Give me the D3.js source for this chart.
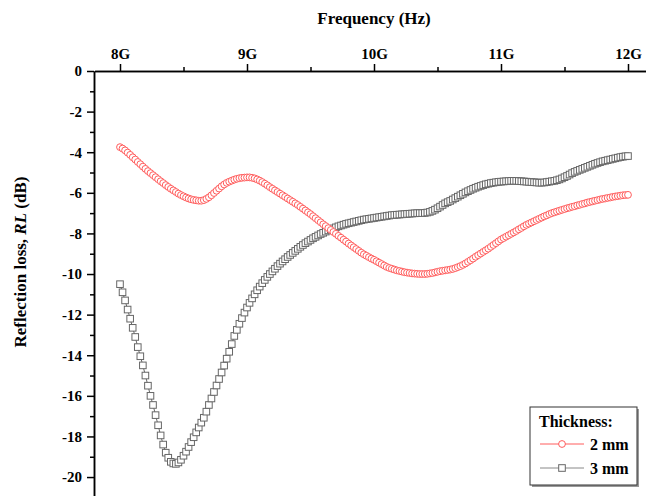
<!DOCTYPE html>
<html>
<head>
<meta charset="utf-8">
<script src="https://cdn.jsdelivr.net/npm/d3@7"></script>
<style>
  body { margin: 0; background: #fff; }
  svg { display: block; font-family: "Liberation Serif", "Times New Roman", serif; font-weight: bold; }
</style>
</head>
<body>
<div class="chart"></div>
<script>
// frequency axis, GHz, step 0.02
const freqStart = 8, freqStep = 0.02;
const xTicks = [8, 9, 10, 11, 12];
const xTickLabels = ["8G", "9G", "10G", "11G", "12G"];
const xMinor = [8.5, 9.5, 10.5, 11.5];
const yTicks = [0, -2, -4, -6, -8, -10, -12, -14, -16, -18, -20];
const yMinor = [-1, -3, -5, -7, -9, -11, -13, -15, -17, -19, -21];

// RL (dB) for 2 mm
const rl2mm = [
  -3.75, -3.82, -3.91, -4.02, -4.13, -4.25, -4.36, -4.48, -4.59, -4.71,
  -4.82, -4.93, -5.03, -5.13, -5.23, -5.33, -5.43, -5.52, -5.62, -5.71,
  -5.80, -5.88, -5.96, -6.04, -6.11, -6.17, -6.23, -6.28, -6.32, -6.35,
  -6.37, -6.39, -6.39, -6.36, -6.30, -6.22, -6.12, -6.01, -5.90, -5.79,
  -5.68, -5.59, -5.51, -5.45, -5.40, -5.35, -5.31, -5.28, -5.26, -5.25,
  -5.24, -5.24, -5.26, -5.29, -5.34, -5.40, -5.47, -5.55, -5.63, -5.72,
  -5.80, -5.88, -5.96, -6.04, -6.12, -6.20, -6.28, -6.36, -6.44, -6.52,
  -6.60, -6.69, -6.78, -6.87, -6.96, -7.05, -7.15, -7.25, -7.35, -7.45,
  -7.55, -7.64, -7.74, -7.83, -7.93, -8.02, -8.12, -8.21, -8.31, -8.40,
  -8.50, -8.59, -8.68, -8.77, -8.86, -8.95, -9.03, -9.10, -9.17, -9.24,
  -9.30, -9.37, -9.44, -9.51, -9.58, -9.65, -9.70, -9.74, -9.78, -9.82,
  -9.85, -9.88, -9.91, -9.93, -9.95, -9.97, -9.98, -9.99, -10.00, -10.00,
  -10.00, -9.99, -9.97, -9.95, -9.92, -9.89, -9.86, -9.84, -9.82, -9.80,
  -9.78, -9.75, -9.71, -9.66, -9.61, -9.55, -9.48, -9.40, -9.32, -9.24,
  -9.15, -9.07, -8.99, -8.91, -8.83, -8.75, -8.66, -8.57, -8.48, -8.39,
  -8.30, -8.23, -8.16, -8.09, -8.02, -7.95, -7.88, -7.80, -7.73, -7.65,
  -7.58, -7.52, -7.46, -7.40, -7.34, -7.28, -7.22, -7.16, -7.11, -7.05,
  -7.00, -6.96, -6.92, -6.88, -6.84, -6.80, -6.76, -6.73, -6.69, -6.66,
  -6.62, -6.59, -6.55, -6.52, -6.48, -6.45, -6.42, -6.39, -6.36, -6.33,
  -6.30, -6.28, -6.25, -6.23, -6.20, -6.18, -6.16, -6.14, -6.12, -6.11,
  -6.10
];

// RL (dB) for 3 mm
const rl3mm = [
  -10.50, -10.90, -11.30, -11.75, -12.20, -12.65, -13.10, -13.60, -14.05, -14.50,
  -15.00, -15.50, -16.00, -16.45, -16.95, -17.45, -17.95, -18.40, -18.80, -19.05,
  -19.25, -19.33, -19.35, -19.28, -19.15, -18.95, -18.75, -18.52, -18.28, -18.04,
  -17.80, -17.56, -17.32, -17.08, -16.78, -16.45, -16.13, -15.81, -15.49, -15.17,
  -14.85, -14.51, -14.17, -13.83, -13.45, -13.05, -12.75, -12.45, -12.17, -11.90,
  -11.65, -11.42, -11.20, -11.00, -10.80, -10.62, -10.45, -10.29, -10.14, -10.00,
  -9.87, -9.74, -9.61, -9.49, -9.38, -9.27, -9.16, -9.06, -8.96, -8.86,
  -8.76, -8.66, -8.57, -8.48, -8.40, -8.32, -8.24, -8.17, -8.10, -8.03,
  -7.97, -7.91, -7.85, -7.80, -7.75, -7.70, -7.65, -7.61, -7.57, -7.53,
  -7.50, -7.47, -7.44, -7.41, -7.38, -7.35, -7.32, -7.30, -7.28, -7.26,
  -7.24, -7.22, -7.20, -7.18, -7.16, -7.14, -7.12, -7.10, -7.09, -7.08,
  -7.07, -7.06, -7.05, -7.04, -7.03, -7.02, -7.01, -7.00, -7.00, -7.00,
  -6.99, -6.97, -6.94, -6.89, -6.83, -6.76, -6.68, -6.60, -6.52, -6.46,
  -6.40, -6.33, -6.26, -6.19, -6.12, -6.05, -5.98, -5.92, -5.86, -5.80,
  -5.75, -5.70, -5.66, -5.62, -5.58, -5.55, -5.52, -5.50, -5.48, -5.46,
  -5.45, -5.44, -5.43, -5.42, -5.41, -5.41, -5.41, -5.42, -5.43, -5.44,
  -5.45, -5.46, -5.47, -5.48, -5.49, -5.50, -5.50, -5.49, -5.47, -5.45,
  -5.43, -5.41, -5.38, -5.34, -5.29, -5.23, -5.17, -5.10, -5.03, -4.97,
  -4.92, -4.87, -4.82, -4.77, -4.72, -4.67, -4.62, -4.57, -4.53, -4.49,
  -4.45, -4.42, -4.39, -4.36, -4.33, -4.30, -4.27, -4.24, -4.22, -4.20,
  -4.19
];

const seriesNames = ["2 mm", "3 mm"];
const legendTitle = "Thickness:";

const W = 646, H = 496;
const svg = d3.select(".chart").append("svg")
    .attr("width", W)
    .attr("height", H);

const x = d3.scaleLinear().domain([7.8, 12.2]).range([94.6, 653.4]);
const y = d3.scaleLinear().domain([0, -21.5]).range([71, 507.5]);

const toPoints = arr => arr.map((v, i) => ({ f: freqStart + i * freqStep, v: v }));

function styleAxis(g) {
    g.selectAll("path, line").attr("stroke", "#000").attr("stroke-width", 1.5);
    g.selectAll("text")
        .attr("font-size", 15)
        .attr("font-family", "Liberation Serif")
        .attr("font-weight", "bold")
        .attr("fill", "#000");
}

// top axis
const axTop = svg.append("g").attr("transform", "translate(0,71)")
    .call(d3.axisTop(x).tickValues(xTicks).tickFormat((d, i) => xTickLabels[i]).tickSize(7).tickSizeOuter(0));
const axTopMinor = svg.append("g").attr("transform", "translate(0,71)")
    .call(d3.axisTop(x).tickValues(xMinor).tickFormat("").tickSize(4).tickSizeOuter(0));
styleAxis(axTop);
styleAxis(axTopMinor);
axTop.selectAll("text").attr("dy", -2);

// left axis
const axLeft = svg.append("g").attr("transform", "translate(94,0)")
    .call(d3.axisLeft(y).tickValues(yTicks).tickSize(7).tickSizeOuter(0)
        .tickFormat(d => d === 0 ? "0" : "-" + Math.abs(d)));
const axLeftMinor = svg.append("g").attr("transform", "translate(94,0)")
    .call(d3.axisLeft(y).tickValues(yMinor).tickFormat("").tickSize(4).tickSizeOuter(0));
styleAxis(axLeft);
styleAxis(axLeftMinor);
axLeft.selectAll("text").attr("x", -12);

// axis titles
svg.append("text")
    .attr("x", x(10))
    .attr("y", 24)
    .attr("text-anchor", "middle")
    .attr("font-size", 17)
    .text("Frequency (Hz)");

const yTitle = svg.append("text")
    .attr("transform", "translate(26,262)rotate(-90)")
    .attr("text-anchor", "middle")
    .attr("font-size", 17);
yTitle.append("tspan").text("Reflection loss, ");
yTitle.append("tspan").attr("font-style", "italic").text("RL");
yTitle.append("tspan").text(" (dB)");

// series
const red = "#ff5c5c", gray = "#666";
const line = d3.line().x(d => x(d.f)).y(d => y(d.v));

const p2 = toPoints(rl2mm), p3 = toPoints(rl3mm);

svg.append("path").datum(p3)
    .attr("d", line).attr("fill", "none").attr("stroke", gray).attr("stroke-width", 1);
svg.append("g").selectAll("rect")
    .data(p3)
    .join("rect")
    .attr("x", d => x(d.f) - 3.3)
    .attr("y", d => y(d.v) - 3.3)
    .attr("width", 6.6)
    .attr("height", 6.6)
    .attr("fill", "#fff")
    .attr("stroke", gray)
    .attr("stroke-width", 1);

svg.append("path").datum(p2)
    .attr("d", line).attr("fill", "none").attr("stroke", red).attr("stroke-width", 1);
svg.append("g").selectAll("circle")
    .data(p2)
    .join("circle")
    .attr("cx", d => x(d.f))
    .attr("cy", d => y(d.v))
    .attr("r", 3.4)
    .attr("fill", "#fff")
    .attr("stroke", red)
    .attr("stroke-width", 1);

// legend
const lg = svg.append("g").attr("transform", "translate(530,407)");
lg.append("rect").attr("x", 2).attr("y", 2).attr("width", 107).attr("height", 78).attr("fill", "#999");
lg.append("rect").attr("width", 107).attr("height", 78).attr("fill", "#fff").attr("stroke", "#333").attr("stroke-width", 1);
lg.append("text").attr("x", 9).attr("y", 20).attr("font-size", 16).text(legendTitle);

seriesNames.forEach((name, i) => {
    const cy = 37 + i * 24;
    const c = i === 0 ? red : "#888";
    lg.append("line").attr("x1", 10).attr("x2", 54).attr("y1", cy).attr("y2", cy)
        .attr("stroke", c).attr("stroke-width", 1);
    if (i === 0) {
        lg.append("circle").attr("cx", 32).attr("cy", cy).attr("r", 3.4)
            .attr("fill", "#fff").attr("stroke", red);
    } else {
        lg.append("rect").attr("x", 28.7).attr("y", cy - 3.3).attr("width", 6.6).attr("height", 6.6)
            .attr("fill", "#fff").attr("stroke", gray);
    }
    lg.append("text").attr("x", 60).attr("y", cy + 5.5).attr("font-size", 16).text(name);
});
</script>
</body>
</html>
